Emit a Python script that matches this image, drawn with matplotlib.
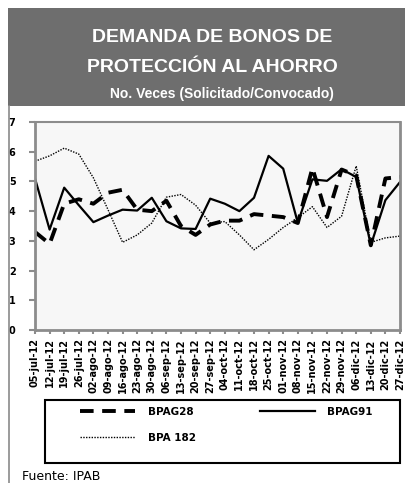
import matplotlib
matplotlib.use("Agg")
import matplotlib.pyplot as plt
from matplotlib.patches import Rectangle
from matplotlib.lines import Line2D

# weekly auction dates (jul-dic 2012)
fechas = ["05-jul-12", "12-jul-12", "19-jul-12", "26-jul-12",
          "02-ago-12", "09-ago-12", "16-ago-12", "23-ago-12", "30-ago-12",
          "06-sep-12", "13-sep-12", "20-sep-12", "27-sep-12",
          "04-oct-12", "11-oct-12", "18-oct-12", "25-oct-12",
          "01-nov-12", "08-nov-12", "15-nov-12", "22-nov-12", "29-nov-12",
          "06-dic-12", "13-dic-12", "20-dic-12", "27-dic-12"]

# times demanded (solicitado / convocado)
bpag28 = [3.3, 2.9, 4.25, 4.4, 4.25, 4.62, 4.72, 4.05, 4.0, 4.35, 3.5, 3.2, 3.55,
          3.68, 3.68, 3.9, 3.85, 3.8, 3.6, 5.45, 3.8, 5.4, 5.2, 2.85, 5.1, 5.15]
bpag91 = [5.1, 3.38, 4.79, 4.2, 3.63, 3.85, 4.05, 4.02, 4.45, 3.66, 3.42, 3.4, 4.42,
          4.25, 4.0, 4.45, 5.86, 5.43, 3.61, 5.07, 5.02, 5.41, 5.15, 2.85, 4.37, 4.98]
bpa182 = [5.68, 5.86, 6.12, 5.92, 5.12, 4.05, 2.95, 3.2, 3.6, 4.47, 4.56, 4.2, 3.6,
          3.65, 3.2, 2.7, 3.05, 3.45, 3.78, 4.15, 3.45, 3.83, 5.52, 2.95, 3.1, 3.16]

W, H = 405, 483
fig = plt.figure(figsize=(W / 100, H / 100), dpi=100)
fig.patch.set_facecolor("white")

def px(x0, y0, w, h):
    # pixel box (top-left origin) -> figure fraction
    return [x0 / W, 1 - (y0 + h) / H, w / W, h / H]

# grey header band + left border of the panel
b = px(8, 8, W - 8, 98)
fig.patches.append(Rectangle((b[0], b[1]), b[2], b[3], transform=fig.transFigure,
                             facecolor="#6e6e6e", edgecolor="none", zorder=0))
fig.add_artist(Line2D([8.5 / W, 8.5 / W], [0, 1 - 106 / H], transform=fig.transFigure,
                      color="#8a8a8a", lw=1.2))

tfont = "Liberation Sans"
fig.text(212 / W, 1 - 37 / H, "DEMANDA DE BONOS DE", color="white", fontsize=14,
         fontweight="bold", family=tfont, ha="center", va="center")
fig.text(212 / W, 1 - 68 / H, "PROTECCIÓN AL AHORRO", color="white", fontsize=14,
         fontweight="bold", family=tfont, ha="center", va="center")
fig.text(222 / W, 1 - 94 / H, "No. Veces (Solicitado/Convocado)", color="white",
         fontsize=10, fontweight="bold", family=tfont, ha="center", va="center")

ax = fig.add_axes(px(35, 122, 365, 208))
ax.set_facecolor("#f7f7f7")
x = range(len(fechas))
l28, = ax.plot(x, bpag28, color="black", lw=2.8, dashes=(3.5, 2.2), label="BPAG28")
l91, = ax.plot(x, bpag91, color="black", lw=1.6, label="BPAG91")
l182, = ax.plot(x, bpa182, color="black", lw=1.0, linestyle=(0, (1, 1)), label="BPA 182")

ax.set_xlim(0, len(fechas) - 1)
ax.set_ylim(0, 7)
ax.set_yticks(range(8))
ax.set_xticks(list(x))
ax.set_xticklabels(fechas, rotation=90, fontsize=7, fontweight="bold",
                   family="DejaVu Sans", va="top", ha="center")
ax.set_yticklabels([str(v) for v in range(8)], fontsize=7, fontweight="bold",
                   family="DejaVu Sans")
ax.tick_params(axis="y", direction="out", length=4, width=1.5, color="#8c8c8c",
               pad=10)
ax.tick_params(axis="x", direction="out", length=3, width=1.5, color="#8c8c8c",
               pad=3)
for s in ax.spines.values():
    s.set_color("#8c8c8c")
    s.set_linewidth(2)
ax.spines["top"].set_linewidth(1.5)

# legend box drawn on its own, entries placed inside it
lb = px(45, 400, 355, 63)
fig.patches.append(Rectangle((lb[0], lb[1]), lb[2], lb[3], transform=fig.transFigure,
                             facecolor="white", edgecolor="black", lw=1.5, zorder=1))
leg = fig.legend(handles=[l28, l182, l91], ncol=2, loc="upper left",
                 bbox_to_anchor=(80 / W, 1 - 440 / H, 293 / W, 33 / H), mode="expand",
                 borderaxespad=0, frameon=False, handlelength=5.3, handletextpad=1.2,
                 labelspacing=1.5, borderpad=0, prop={"weight": "bold", "size": 7.5})

fig.text(22 / W, 1 - 477 / H, "Fuente: IPAB", fontsize=9, ha="left", va="center")

fig.savefig("out.png", dpi=100, facecolor="white")
